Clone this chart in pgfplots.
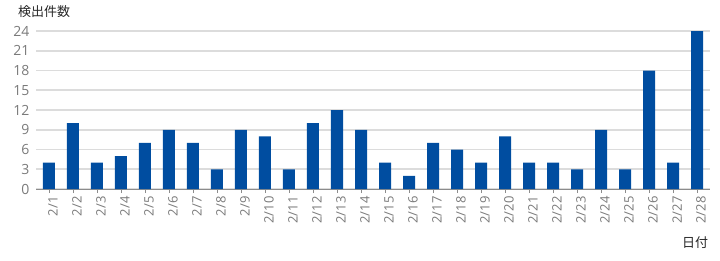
\documentclass[border=0pt]{standalone}
\usepackage{pgfplots}
\pgfplotsset{compat=1.18}
\usepackage{fontspec}
\setmainfont{Open Sans}
\newfontfamily\jp{Noto Sans CJK JP}
\definecolor{barblue}{HTML}{004DA0}
\definecolor{gridgray}{HTML}{DCDCDC}
\definecolor{ticklab}{HTML}{7A7A7A}
\definecolor{axisgray}{HTML}{8C8C8C}
\begin{document}
\begin{tikzpicture}
\begin{axis}[
  scale only axis, width=674pt, height=158pt,
  at={(0,0)}, anchor=south west,
  xmin=-0.54, xmax=27.54, ymin=0, ymax=24,
  ytick={0,3,...,24},
  xtick={0,...,27},
  xticklabels={2/1,2/2,2/3,2/4,2/5,2/6,2/7,2/8,2/9,2/10,2/11,2/12,2/13,2/14,2/15,2/16,2/17,2/18,2/19,2/20,2/21,2/22,2/23,2/24,2/25,2/26,2/27,2/28},
  x tick label style={rotate=90, anchor=east, font=\fontsize{13}{14}\selectfont, text=ticklab, yshift=-4pt},
  y tick label style={font=\fontsize{14}{15}\selectfont, text=ticklab, xshift=-3pt},
  /pgf/number format/assume math mode=true,
  axis lines*=left,
  axis line style={draw=none},
  ymajorgrids, major grid style={gridgray, line width=1.6pt},
  xtick style={axisgray, line width=0.8pt},
  xtick align=outside, major tick length=4pt,
  ytick style={draw=none},
  ybar, bar width=12pt,
  clip=false,
]
\draw[axisgray, line width=1pt] (axis cs:-0.54,0) -- (axis cs:27.54,0);
\addplot[fill=barblue, draw=none] coordinates {
(0,4)(1,10)(2,4)(3,5)(4,7)(5,9)(6,7)(7,3)(8,9)(9,8)(10,3)(11,10)(12,12)(13,9)
(14,4)(15,2)(16,7)(17,6)(18,4)(19,8)(20,4)(21,4)(22,3)(23,9)(24,3)(25,18)(26,4)(27,24)};
\node[font=\jp\fontsize{13}{14}\selectfont, text=black!85] at (axis description cs:0.012,1.12) {検出件数};
\node[font=\jp\fontsize{13}{14}\selectfont, text=black!85] at (axis description cs:0.978,-0.342) {日付};
\end{axis}
\pgfresetboundingbox
\path (-36pt,-71pt) rectangle (684pt,189pt);
\end{tikzpicture}
\end{document}
